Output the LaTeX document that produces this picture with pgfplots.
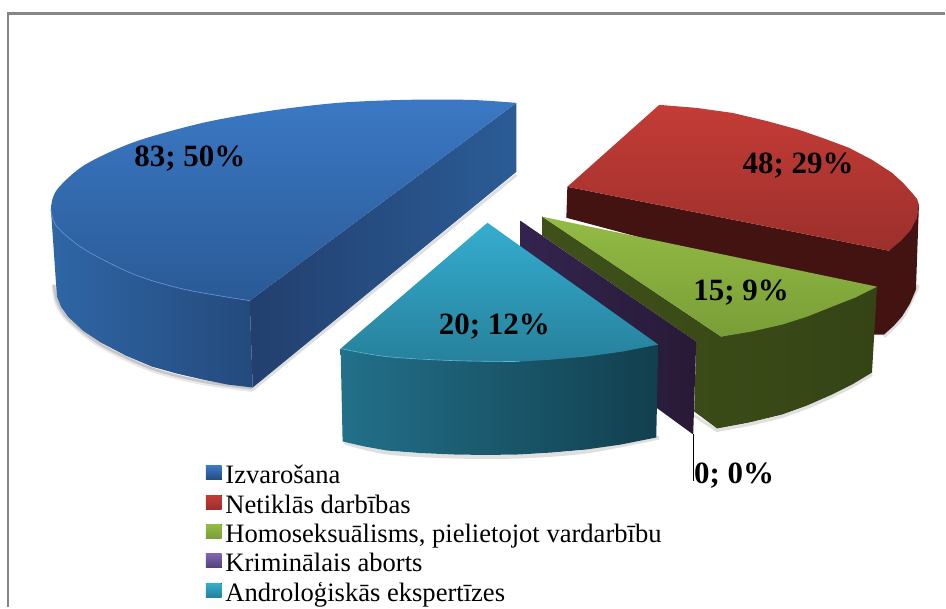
\documentclass[border=0pt]{standalone}
\usepackage{fontspec}
\setmainfont{Liberation Serif}
\usepackage{pgfplots}
\pgfplotsset{compat=1.18}
\definecolor{frame}{HTML}{868686}
\definecolor{blue1t}{HTML}{3B78C4}\definecolor{blue2t}{HTML}{2A5A96}
\definecolor{blue1s}{HTML}{2F66A6}\definecolor{blue2s}{HTML}{244A7C}
\definecolor{blue3s}{HTML}{223F6E}\definecolor{blue4s}{HTML}{2B5C96}
\definecolor{red1}{HTML}{C43C36}\definecolor{red2}{HTML}{9C2F2C}\definecolor{red3}{HTML}{431311}
\definecolor{green1}{HTML}{93BB44}\definecolor{green2}{HTML}{799E38}
\definecolor{green3}{HTML}{3F5119}\definecolor{green4}{HTML}{354415}
\definecolor{purple1}{HTML}{33244F}\definecolor{purple2}{HTML}{281A36}
\definecolor{purple3}{HTML}{8064B0}\definecolor{purple4}{HTML}{54407A}
\definecolor{teal1}{HTML}{35ADCF}\definecolor{teal2}{HTML}{26819C}
\definecolor{teal3}{HTML}{22708A}\definecolor{teal4}{HTML}{123F4E}
\newcommand{\swatch}[2]{\fill[top color=#1,bottom color=#2,draw=none] (0pt,-2pt) rectangle (16pt,12pt); \path (19.5pt,0pt);}
\begin{document}
\begin{tikzpicture}
\begin{axis}[
  scale only axis, width=946pt, height=608pt,
  xmin=0, xmax=946, ymin=0, ymax=608, y dir=reverse,
  hide axis, clip=false,
  legend cell align=left,
  legend style={at={(axis cs:206,465.5)}, anchor=north west, draw=none, fill=none, inner sep=0pt, outer sep=0pt,
    font=\fontsize{26.6}{26.6}\selectfont, row sep=3.3pt,
    nodes={inner sep=0pt, text height=19pt, text depth=7pt}},
]
% page extent
\addplot[draw=none, forget plot] coordinates {(0,0) (946,608)};
% frame
\addplot[draw=frame, line width=2.2pt, forget plot] coordinates {(8,608) (8,13.5) (946,13.5)};
% shadows
\addplot[smooth, draw=gray!18, line width=5pt, forget plot] coordinates {(54,285) (57,303) (68,320) (101,346) (152,370) (203,383) (253,390)};
\addplot[smooth, draw=gray!45, line width=2.5pt, forget plot] coordinates {(54,285) (57,301) (68,319) (101,345) (152,369) (203,382) (253,389)};
\addplot[draw=gray!25, line width=3pt, forget plot] coordinates {(253,390) (517,175)};
\addplot[smooth, draw=gray!25, line width=4pt, forget plot] coordinates {(345,443) (387,453) (453,457) (520,457) (587,452) (660,438)};
\addplot[draw=gray!25, line width=3pt, forget plot] coordinates {(695,416) (718,431) (750,425) (783,417) (808,408) (833,397) (853,387) (873,375)};
\addplot[smooth, draw=gray!25, line width=3pt, forget plot] coordinates {(885,337) (903,319) (917,292) (919,285)};
% Izvarosana: 83; 50%
\addplot[left color=blue1s, right color=blue2s, draw=none, forget plot] coordinates {(51,210) (250,301) (253,388) (228,385) (203,380) (177,374) (152,367) (126,356) (101,343) (83,331) (68,317) (61,307) (57,297)};
\addplot[left color=blue3s, right color=blue4s, draw=none, forget plot] coordinates {(250,301) (517,103) (517,172) (253,388)};
\addplot[smooth, top color=blue1t, bottom color=blue2t, draw=none, forget plot] coordinates {(517,103) (470,100) (405,100) (338,103) (270,111) (203,123) (135,142) (85,165) (57,190) (51,210) (57,227) (85,250) (135,275) (186,290) (250,301)};
\addplot[smooth, draw=blue1t!80, line width=0.7pt, forget plot] coordinates {(51,210) (57,227) (85,250) (135,275) (186,290) (250,301)};
% Netiklas darbibas: 48; 29%
\addplot[draw=none, fill=red3, forget plot] coordinates {(568,187) (890,251) (920,205) (917,290) (911,304) (903,317) (895,326) (885,335) (875,335) (875,300) (567,218)};
\addplot[top color=red1, bottom color=red2, draw=none, forget plot] coordinates {(660,105) (697,108) (733,113) (767,121) (800,130) (826,139) (850,148) (873,160) (893,173) (904,183) (913,193) (918,199) (920,205) (918,218) (912,230) (902,241) (890,251) (568,187)};
% Homoseksualisms: 15; 9%
\addplot[left color=green3, right color=green4, draw=none, forget plot] coordinates {(543,217) (722,337) (878,287) (873,373) (853,385) (833,395) (808,406) (783,415) (750,423) (718,429) (695,412) (697,342) (543,236)};
\addplot[top color=green1, bottom color=green2, draw=none, forget plot] coordinates {(543,217) (878,287) (856,298) (833,307) (808,317) (783,325) (752,332) (722,337)};
% Kriminalais aborts: 0; 0%
\addplot[left color=purple1, right color=purple2, draw=none, forget plot] coordinates {(521,221) (697,342) (694,435) (657,408) (640,395) (521,260)};
% Androloģiskās ekspertīzes: 20; 12%
\addplot[left color=teal3, right color=teal4, draw=none, forget plot] coordinates {(341,349) (659,345) (657,438) (622,445) (587,450) (553,453) (520,455) (486,455.5) (453,455) (420,453.5) (387,451) (365,447) (343,442)};
\addplot[top color=teal1, bottom color=teal2, draw=none, forget plot] coordinates {(488,223) (659,345) (623,352) (587,357) (553,360) (520,362) (486,362) (453,361) (420,359) (387,357) (364,353) (341,349)};
\addplot[smooth, draw=teal1!80, line width=0.6pt, forget plot] coordinates {(341,349) (387,357) (453,361) (520,362)};
% leader
\addplot[draw=black, line width=1.3pt, forget plot] coordinates {(694,435) (694,482)};
% labels
\node[font=\bfseries\fontsize{31}{31}\selectfont, inner sep=0pt] at (axis cs:190,159) {83; 50\%};
\node[font=\bfseries\fontsize{31}{31}\selectfont, inner sep=0pt] at (axis cs:799,166) {48; 29\%};
\node[font=\bfseries\fontsize{31}{31}\selectfont, inner sep=0pt] at (axis cs:742,293) {15; 9\%};
\node[font=\bfseries\fontsize{31}{31}\selectfont, inner sep=0pt] at (axis cs:495,327) {20; 12\%};
\node[font=\bfseries\fontsize{31}{31}\selectfont, inner sep=0pt] at (axis cs:735,476) {0; 0\%};
% legend
\addlegendimage{legend image code/.code={\swatch{blue1t}{blue2s}}}
\addlegendentry{Izvarošana}
\addlegendimage{legend image code/.code={\swatch{red1}{red2}}}
\addlegendentry{Netiklās darbības}
\addlegendimage{legend image code/.code={\swatch{green1}{green2}}}
\addlegendentry{Homoseksuālisms, pielietojot vardarbību}
\addlegendimage{legend image code/.code={\swatch{purple3}{purple4}}}
\addlegendentry{Kriminālais aborts}
\addlegendimage{legend image code/.code={\swatch{teal1}{teal2}}}
\addlegendentry{Androloģiskās ekspertīzes}
\end{axis}
\end{tikzpicture}
\end{document}
